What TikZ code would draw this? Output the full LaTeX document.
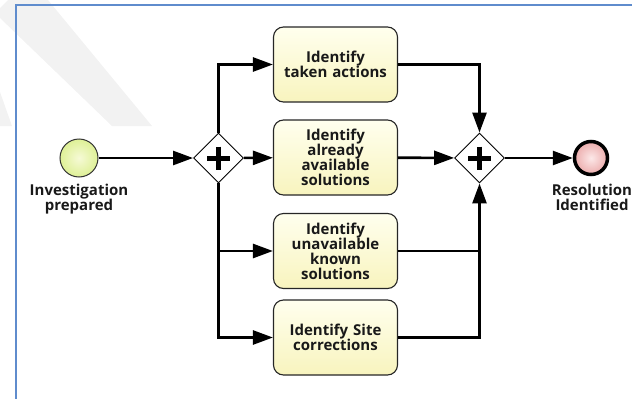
\documentclass[tikz,border=0pt]{standalone}
\usepackage{fontspec}
\setmainfont{Open Sans}[BoldFont={* Bold}]
\usetikzlibrary{shapes.geometric,arrows.meta,calc}
\definecolor{framecol}{RGB}{95,140,205}
\definecolor{tasktop}{RGB}{255,255,238}
\definecolor{taskbot}{RGB}{248,244,190}
\definecolor{startin}{RGB}{246,250,214}
\definecolor{startout}{RGB}{222,240,150}
\definecolor{endin}{RGB}{252,232,232}
\definecolor{endout}{RGB}{236,172,172}
\definecolor{txt}{RGB}{25,25,25}
\definecolor{wm}{RGB}{242,242,242}
\tikzset{
  lbl/.style={font=\bfseries\fontsize{15}{15}\selectfont, text=txt, align=center, inner sep=0pt},
  task/.style={draw=black!85, line width=1.1pt, rounded corners=10pt, minimum width=124pt, minimum height=75pt,
     top color=tasktop, bottom color=taskbot, lbl, text width=120pt},
  gate/.style={diamond, draw=black, line width=0.9pt, fill=white, minimum width=50pt, minimum height=50pt, inner sep=0pt},
  startev/.style={circle, draw=black!80, line width=1pt, inner color=startin, outer color=startout, minimum size=38pt, inner sep=0pt},
  endev/.style={circle, draw=black, line width=3.5pt, inner color=endin, outer color=endout, minimum size=33pt, inner sep=0pt},
  flow/.style={line width=2.6pt, -{Triangle[length=20pt,width=14pt]}},
  plain/.style={line width=2.6pt},
  plus/.style={line width=5pt}
}
\begin{document}
\begin{tikzpicture}[x=1pt,y=-1pt]
\useasboundingbox (0,0) rectangle (632,399);
% faint watermark band
\fill[wm] (8,0) -- (48,0) -- (152,126) -- (112,126) -- (0,18) -- (0,8) -- cycle;
\fill[wm] (0,92) -- (12,126) -- (0,126) -- cycle;
% frame
\draw[framecol, line width=2pt] (15.7,400) -- (15.7,5) -- (633,5);

\node[startev] (s) at (79,158) {};
\node[lbl, anchor=north] (sl) at (79,184) {Investigation\\prepared};
\node[gate] (g1) at (218.5,158) {};
\draw[plus] ($(g1.center)+(-11.5,0)$) -- ($(g1.center)+(11.5,0)$) ($(g1.center)+(0,-11.5)$) -- ($(g1.center)+(0,11.5)$);
\node[task] (t1) at (335.5,64.5) {Identify\\taken actions};
\node[task] (t2) at (335.5,157.5) {Identify\\already\\available\\solutions};
\node[task] (t3) at (335.5,251) {Identify\\unavailable\\known\\solutions};
\node[task] (t4) at (335.5,337.5) {Identify Site\\corrections};
\node[gate] (g2) at (479.5,158) {};
\draw[plus] ($(g2.center)+(-11.5,0)$) -- ($(g2.center)+(11.5,0)$) ($(g2.center)+(0,-11.5)$) -- ($(g2.center)+(0,11.5)$);
\node[endev] (e) at (591,158) {};
\node[lbl, anchor=north] (el) at (592,184) {Resolution\\Identified};

\draw[flow] (s) -- (g1);
\draw[flow] (g1.north) |- (t1.west);
\draw[flow] (g1) -- (t2);
\draw[flow] (g1.south) |- (t3.west);
\draw[flow] (g1.south) |- (t4.west);
\draw[flow] (t1.east) -| (g2.north);
\draw[flow] (t2) -- (g2);
\coordinate (t3end) at ($(t3.east -| g2.center)+(-2,0)$);
\draw[plain] (t3.east) -- (t3end);
\draw[flow] (t4.east) -| (g2.south);
\draw[flow] (g2) -- (e);
\end{tikzpicture}
\end{document}
